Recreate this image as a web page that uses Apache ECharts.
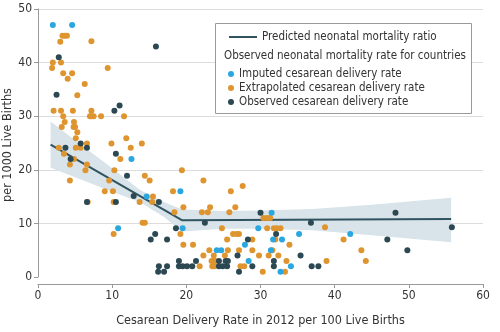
<!DOCTYPE html>
<html><head><meta charset="utf-8">
<script src="https://cdn.jsdelivr.net/npm/echarts@6/dist/echarts.min.js"></script>
<style>html,body{margin:0;padding:0;background:#fff}#c{width:500px;height:332px}</style>
</head><body><div id="c"></div>
<script>
// ---------- data ----------
const xTicks = [0, 10, 20, 30, 40, 50, 60];
const yTicks = [0, 10, 20, 30, 40, 50];

const seriesNames = [
  'Predicted neonatal mortality ratio',
  'Imputed cesarean delivery rate',
  'Extrapolated cesarean delivery rate',
  'Observed cesarean delivery rate'
];
const legendHeader = 'Observed neonatal mortality rate for countries';
const xTitle = 'Cesarean Delivery Rate in 2012 per 100 Live Births';
const yTitle = 'per 1000 Live Births';

const imputed = [
  [2.0,47],[4.6,47],[12.6,22],[14.65,15],[10.8,9.1],[19.2,16],[19.5,9.1],[29.7,9.1],
  [31.5,12],[27.9,6],[24.1,5],[24.7,5],[28.4,3],[31.7,7],[32.9,7],[35.2,8],[31.4,5],
  [34.1,2],[32.7,1],[42.1,8]
];
const observed = [
  [15.9,43],[2.8,41],[2.5,34],[10.3,31],[11.0,32],[5.75,24.9],[3.7,24.1],[6.6,24.1],
  [4.4,22],[6.6,14],[10.5,23],[12.0,18.9],[10.5,14],[12.9,15.1],[16.3,14],[15.8,8],
  [15.2,7],[17.4,7],[16.3,2],[17.4,2],[16.2,1],[17.0,1],[22.5,10.1],[18.6,9.1],[28.3,7],
  [26.9,4],[19.0,3],[21.3,3],[24.4,3],[25.3,3],[25.6,3],[19.0,2],[19.5,2],[20.1,2],
  [20.8,2],[24.4,2],[24.9,2],[25.5,2],[27.1,1],[28.9,2],[30.0,12],[36.8,10.1],[32.1,8],
  [31.8,3],[31.8,2],[35.4,4],[36.9,2],[37.8,2],[48.2,12],[55.8,9.3],[47.1,7],[49.8,5]
];
const extrapolated = [
  [3.3,45],[3.6,45],[3.9,45],[3.0,43.9],[7.2,44],[2.0,40],[3.1,40],[1.9,39],[3.4,38],
  [4.6,38],[4.0,37],[9.4,39],[6.3,36],[5.3,33.9],
  [2.1,31],[3.1,31],[4.7,31],[7.2,31],[3.4,30],[7.0,30],[7.2,30],[7.5,30],[8.5,30],
  [11.6,30],[3.6,28.9],[4.85,28.9],[3.2,28],[4.8,28],[5.0,28],[5.3,27],[5.1,25.9],
  [11.9,25.9],[6.6,24.9],[9.9,24.9],[14.0,24.9],
  [2.8,24.1],[5.1,24.1],[5.75,24.1],[12.5,24.1],[3.5,23],[4.85,22],[11.1,22],[4.3,21],
  [6.6,21],[6.4,19.9],[10.3,19.9],[4.3,18],[9.6,18],[9.0,16],[10.1,16],[6.7,14],[10.2,14],
  [13.7,14],[10.2,8],[14.4,18.9],[15.05,18],[15.5,15],[15.4,14],[14.1,10.1],[14.4,10.1],
  [19.4,19.9],[22.3,18],[18.2,16],[26.0,16],[27.6,17],[18.4,12.1],[19.6,13],[22.1,12.1],
  [22.9,12.1],[23.2,13],[25.8,12.1],[26.6,13],[24.8,9.1],[19.2,8],[19.6,6],[20.9,6],
  [26.3,8],[26.8,8],[27.1,8],[25.5,7],[28.9,7],
  [30.4,11],[30.9,11],[31.3,11],[30.9,9.1],[31.8,9.1],[32.2,9.1],[32.7,9.1],[32.0,7],
  [33.9,6],[38.7,9.3],[41.2,7],[43.6,5],[44.2,3],[38.9,3],
  [23.1,5],[25.6,5],[27.1,5],[28.9,5],[31.6,5],
  [22.3,4],[23.7,4],[25.2,4],[29.8,4],[31.1,4],[32.4,4],
  [23.4,3],[23.7,3],[23.9,3],[33.5,3],
  [21.8,2],[23.5,2],[23.8,2],[27.3,2],[27.8,2],
  [30.3,1],[33.3,1]
];
const predictedLine = [[1.7,24.7],[19.4,10.6],[55.7,10.8]];
const bandX     = [1.7, 5,    10,   13.7, 17,   19.4, 25,   30,   37,   45,   55.7];
const bandLower = [20.4,18.6, 15.9, 14.0, 11.2, 8.5,  9.0,  9.0,  8.7,  7.8,  6.5];
const bandUpper = [29.0,25.5, 20.3, 16.3, 14.0, 12.6, 12.3, 12.4, 12.7, 13.5, 14.8];

// ---------- chart ----------
const FONT = '"DejaVu Sans Condensed","Liberation Sans Narrow","Noto Sans",sans-serif';
const C_BLUE = '#2aa7df', C_ORANGE = '#df952f', C_DARK = '#2c4852', C_LINE = '#2f5460', C_BAND = '#d9e3ea';
const C_GRID = '#dcdcdc';

const chart = echarts.init(document.getElementById('c'), null, {renderer: 'canvas'});
const bandData = bandX.map((x, i) => [x, bandLower[i], bandUpper[i]]);

chart.setOption({
  animation: false,
  backgroundColor: '#fff',
  textStyle: {fontFamily: FONT},
  grid: {left: 38, right: 17, top: 9, bottom: 53},
  xAxis: {
    type: 'value', min: xTicks[0], max: xTicks[xTicks.length - 1], interval: 10,
    offset: 7,
    name: xTitle, nameLocation: 'middle', nameGap: 30,
    nameTextStyle: {fontFamily: FONT, fontSize: 12.5, color: '#333'},
    axisLine: {show: true, onZero: false, lineStyle: {color: '#999'}},
    axisTick: {show: true, length: 4, lineStyle: {color: '#999'}},
    axisLabel: {fontFamily: FONT, fontSize: 12, color: '#333', margin: 6},
    splitLine: {show: false}
  },
  yAxis: {
    type: 'value', min: yTicks[0], max: yTicks[yTicks.length - 1], interval: 10,
    axisLine: {show: true, onZero: false, lineStyle: {color: '#999'}},
    axisTick: {show: true, length: 4, lineStyle: {color: '#999'}},
    axisLabel: {show: true, fontFamily: FONT, fontSize: 12, color: '#333', margin: 6},
    splitLine: {show: true, showMinLine: false, lineStyle: {color: C_GRID, width: 1, type: 'solid'}}
  },
  legend: [
    {
      data: [{name: seriesNames[0], icon: 'rect'}], left: 224, top: 26, z: 30,
      itemWidth: 28, itemHeight: 2,
      textStyle: {fontFamily: FONT, fontSize: 11.5, color: '#333'}
    },
    {
      data: seriesNames.slice(1), orient: 'vertical', left: 223, top: 62, z: 30,
      itemGap: 0, itemWidth: 6, itemHeight: 6, icon: 'circle',
      textStyle: {fontFamily: FONT, fontSize: 11.5, color: '#333', lineHeight: 14}
    }
  ],
  graphic: [
    {type: 'rect', left: 215, top: 23, z: 20, shape: {width: 256, height: 90},
     style: {fill: '#fff', stroke: '#9a9a9a', lineWidth: 1}},
    {type: 'text', left: 224, top: 50, z: 21,
     style: {text: legendHeader, fill: '#333', font: '11.5px ' + FONT}},
    {type: 'text', x: 8, y: 145, rotation: Math.PI / 2, z: 21,
     style: {text: yTitle, fill: '#333', font: '12.5px ' + FONT,
             textAlign: 'center', textVerticalAlign: 'middle'}}
  ],
  series: [
    {
      type: 'custom', name: 'band', silent: true, z: 1,
      data: bandData, encode: {x: 0, y: [1, 2]},
      renderItem: function (params, api) {
        if (params.dataIndex !== 0) return null;
        const pts = [];
        for (let i = 0; i < bandX.length; i++) pts.push(api.coord([bandX[i], bandUpper[i]]));
        for (let i = bandX.length - 1; i >= 0; i--) pts.push(api.coord([bandX[i], bandLower[i]]));
        return {type: 'polygon', shape: {points: pts}, style: {fill: C_BAND}};
      }
    },
    {
      type: 'line', name: seriesNames[0], data: predictedLine, z: 3,
      showSymbol: false, symbol: 'none', color: C_LINE,
      lineStyle: {color: C_LINE, width: 2}
    },
    {type: 'scatter', name: seriesNames[1], data: imputed, symbolSize: 6, z: 5,
     itemStyle: {color: C_BLUE, opacity: 1}},
    {type: 'scatter', name: seriesNames[2], data: extrapolated, symbolSize: 6, z: 4,
     itemStyle: {color: C_ORANGE, opacity: 1}},
    {type: 'scatter', name: seriesNames[3], data: observed, symbolSize: 6, z: 5,
     itemStyle: {color: C_DARK, opacity: 1}}
  ]
});
</script></body></html>
